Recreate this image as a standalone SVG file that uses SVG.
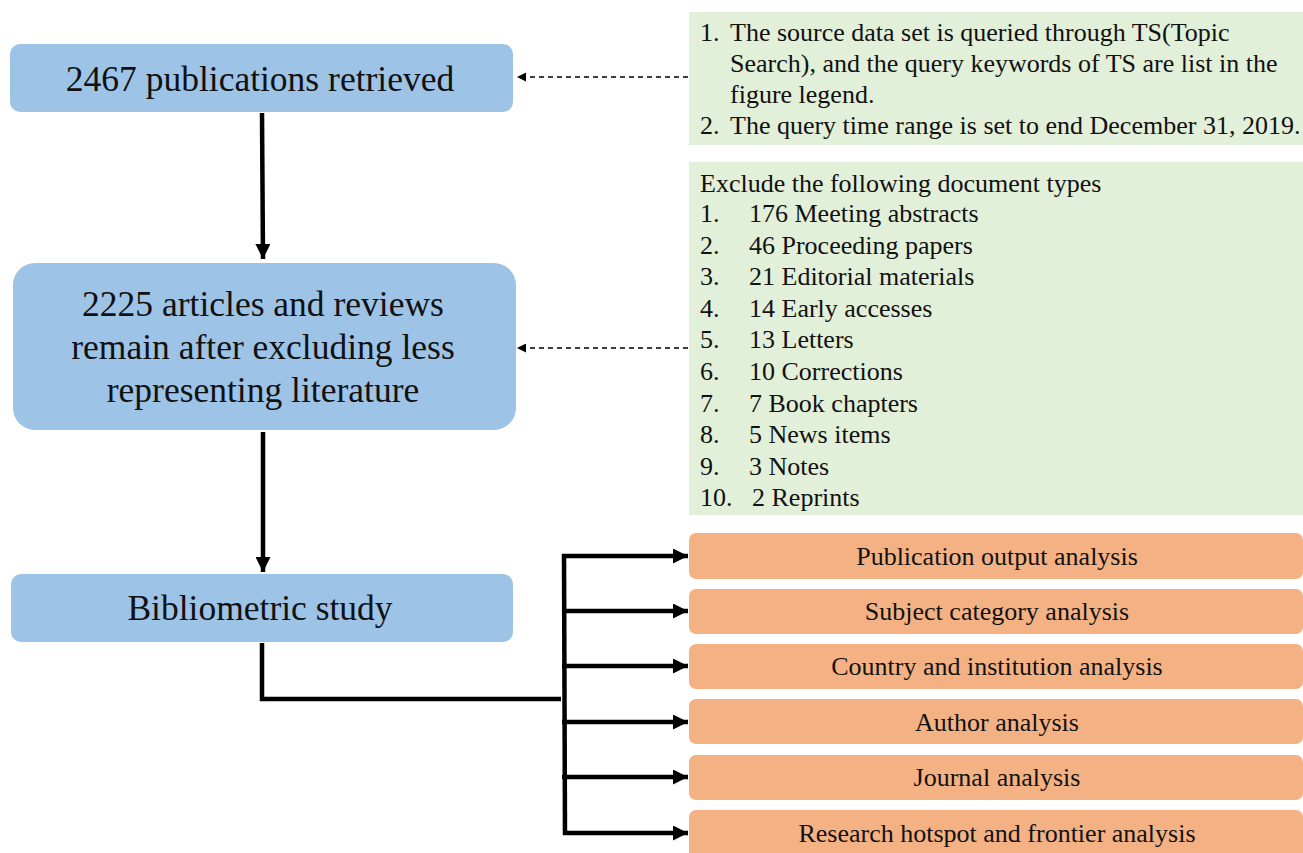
<svg xmlns="http://www.w3.org/2000/svg" width="1303" height="853" viewBox="0 0 1303 853">
<style>
text{font-family:"Liberation Serif","Times New Roman",serif;fill:#111}
.blue{fill:#9dc3e6}
.green{fill:#e2efd9}
.orange{fill:#f4b183}
.big{font-size:35.5px;text-anchor:middle}
.mid{font-size:26px}
.or{font-size:26px;text-anchor:middle}
.solid{stroke:#000;stroke-width:4.5;fill:none}
.dash{stroke:#000;stroke-width:1.5;fill:none;stroke-dasharray:5,4}
</style>
<defs>
<marker id="ah" viewBox="0 0 10 10" refX="10" refY="5" markerWidth="15" markerHeight="15" markerUnits="userSpaceOnUse" orient="auto">
<path d="M0,0 L10,5 L0,10 z" fill="#000"/>
</marker>
<marker id="ahs" viewBox="0 0 10 10" refX="10" refY="5" markerWidth="9" markerHeight="9" markerUnits="userSpaceOnUse" orient="auto">
<path d="M0,0 L10,5 L0,10 z" fill="#000"/>
</marker>
</defs>

<g id="n1"><rect class="blue" x="10" y="44" width="503" height="68" rx="10"/><text class="big" x="260" y="91">2467 publications retrieved</text></g>
<g id="n2"><rect class="blue" x="13" y="263" width="503" height="167" rx="22"/>
<text class="big" x="263" y="316">2225 articles and reviews</text>
<text class="big" x="263" y="359">remain after excluding less</text>
<text class="big" x="263" y="402">representing literature</text></g>
<g id="n3"><rect class="blue" x="11" y="574" width="502" height="68" rx="10"/><text class="big" x="260" y="620">Bibliometric study</text></g>

<g id="note1"><rect class="green" x="689" y="12" width="614" height="133"/>
<text class="mid" x="700" y="41">1.</text><text class="mid" x="730" y="41">The source data set is queried through TS(Topic</text>
<text class="mid" x="730" y="72">Search), and the query keywords of TS are list in the</text>
<text class="mid" x="730" y="103">figure legend.</text>
<text class="mid" x="700" y="134">2.</text><text class="mid" x="730" y="134">The query time range is set to end December 31, 2019.</text></g>

<g id="note2"><rect class="green" x="689" y="162" width="614" height="353"/>
<text class="mid" x="700" y="192">Exclude the following document types</text>
<text class="mid" x="700" y="222">1.</text><text class="mid" x="749" y="222">176 Meeting abstracts</text>
<text class="mid" x="700" y="254">2.</text><text class="mid" x="749" y="254">46 Proceeding papers</text>
<text class="mid" x="700" y="285">3.</text><text class="mid" x="749" y="285">21 Editorial materials</text>
<text class="mid" x="700" y="317">4.</text><text class="mid" x="749" y="317">14 Early accesses</text>
<text class="mid" x="700" y="348">5.</text><text class="mid" x="749" y="348">13 Letters</text>
<text class="mid" x="700" y="380">6.</text><text class="mid" x="749" y="380">10 Corrections</text>
<text class="mid" x="700" y="412">7.</text><text class="mid" x="749" y="412">7 Book chapters</text>
<text class="mid" x="700" y="443">8.</text><text class="mid" x="749" y="443">5 News items</text>
<text class="mid" x="700" y="475">9.</text><text class="mid" x="749" y="475">3 Notes</text>
<text class="mid" x="700" y="506">10.</text><text class="mid" x="752" y="506">2 Reprints</text></g>

<g id="a1"><rect class="orange" x="689" y="533" width="614" height="46" rx="7"/><text class="or" x="997" y="565">Publication output analysis</text></g>
<g id="a2"><rect class="orange" x="689" y="589" width="614" height="45" rx="7"/><text class="or" x="997" y="620">Subject category analysis</text></g>
<g id="a3"><rect class="orange" x="689" y="644" width="614" height="45" rx="7"/><text class="or" x="997" y="675">Country and institution analysis</text></g>
<g id="a4"><rect class="orange" x="689" y="699" width="614" height="45" rx="7"/><text class="or" x="997" y="731">Author analysis</text></g>
<g id="a5"><rect class="orange" x="689" y="755" width="614" height="45" rx="7"/><text class="or" x="997" y="786">Journal analysis</text></g>
<g id="a6"><rect class="orange" x="689" y="810" width="614" height="50" rx="7"/><text class="or" x="997" y="842">Research hotspot and frontier analysis</text></g>

<g id="connectors">
<line class="solid" x1="262" y1="113" x2="263" y2="259" marker-end="url(#ah)"/>
<line class="solid" x1="263" y1="432" x2="263" y2="572" marker-end="url(#ah)"/>
<polyline class="solid" points="262,643 262,699 561,699"/>
<line class="solid" x1="564" y1="554" x2="565" y2="835"/>
<line class="solid" x1="562" y1="556" x2="688" y2="556" marker-end="url(#ah)"/>
<line class="solid" x1="562" y1="611" x2="688" y2="611" marker-end="url(#ah)"/>
<line class="solid" x1="562" y1="666" x2="688" y2="666" marker-end="url(#ah)"/>
<line class="solid" x1="562" y1="722" x2="688" y2="722" marker-end="url(#ah)"/>
<line class="solid" x1="562" y1="777" x2="688" y2="777" marker-end="url(#ah)"/>
<line class="solid" x1="563" y1="833" x2="688" y2="833" marker-end="url(#ah)"/>
<line class="dash" x1="688" y1="77" x2="517" y2="77" marker-end="url(#ahs)"/>
<line class="dash" x1="688" y1="348" x2="517" y2="348" marker-end="url(#ahs)"/>
</g>
</svg>
